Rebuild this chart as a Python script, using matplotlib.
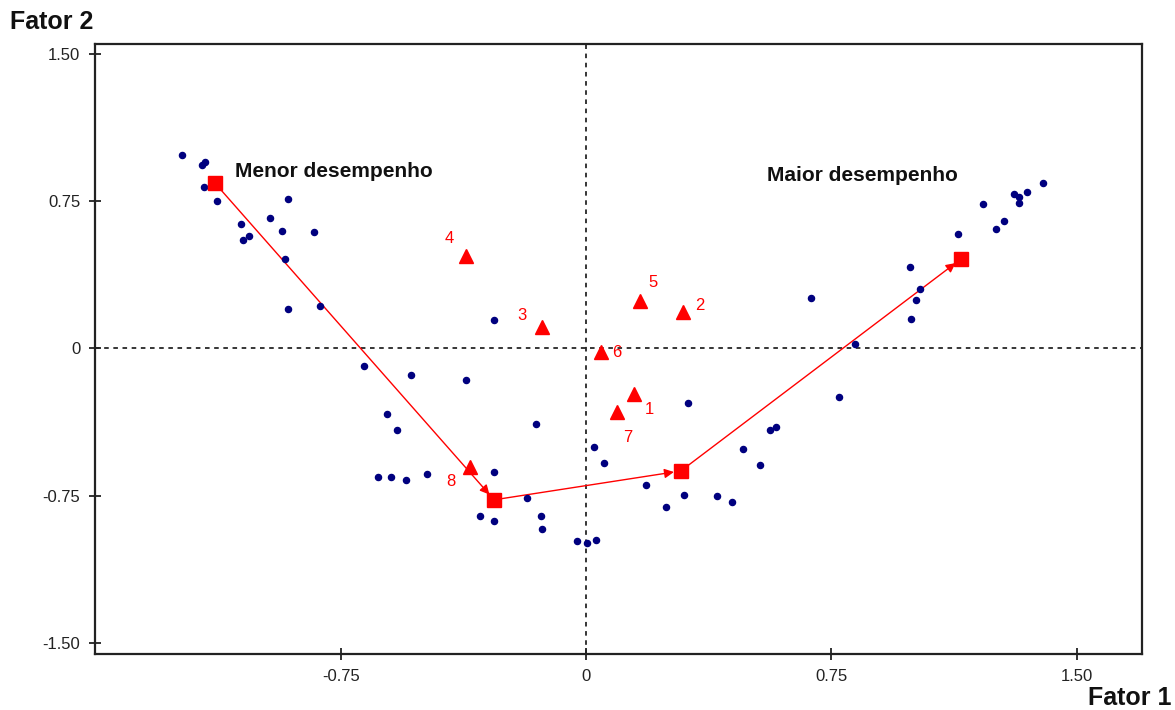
import matplotlib
matplotlib.use("Agg")
import matplotlib.pyplot as plt

plt.rcParams['font.family'] = ['Liberation Sans', 'DejaVu Sans']

# pontos (individuos) - Fator 1 / Fator 2
pontos_x = [-1.236, -1.175, -1.164, -1.169, -1.129, -0.910, -0.967, -1.054, -0.928, -0.832,
            -1.029, -1.049, -0.919, -0.910, -0.813, -0.680, -0.535, -0.368, -0.281, -0.607,
            -0.578, -0.636, -0.597, -0.549, -0.487, -0.281, -0.180, -0.324, -0.281, -0.138,
            -0.134, -0.027, 0.002, 0.031, -0.152, 0.025, 0.054, 0.313, 0.184, 0.300,
            0.245, 0.400, 0.447, 0.481, 0.533, 0.563, 0.582, 0.773, 0.688, 0.822,
            0.994, 1.009, 1.022, 0.990, 1.138, 1.215, 1.253, 1.277, 1.309, 1.323,
            1.325, 1.348, 1.397]
pontos_y = [0.984, 0.934, 0.951, 0.824, 0.751, 0.760, 0.663, 0.632, 0.600, 0.592,
            0.574, 0.552, 0.456, 0.200, 0.216, -0.088, -0.136, -0.160, 0.144, -0.335,
            -0.415, -0.654, -0.654, -0.671, -0.639, -0.630, -0.760, -0.854, -0.878, -0.854,
            -0.919, -0.982, -0.990, -0.975, -0.384, -0.504, -0.583, -0.279, -0.697, -0.744,
            -0.807, -0.751, -0.783, -0.512, -0.592, -0.417, -0.400, -0.247, 0.257, 0.024,
            0.152, 0.247, 0.304, 0.417, 0.583, 0.736, 0.607, 0.648, 0.785, 0.770,
            0.742, 0.798, 0.841]

# trajetoria (quadrados)
traj_x = [-1.134, -0.281, 0.290, 1.147]
traj_y = [0.841, -0.771, -0.624, 0.456]

# variaveis (triangulos)
var_nomes = ['1', '2', '3', '4', '5', '6', '7', '8']
var_x = [0.148, 0.297, -0.135, -0.366, 0.166, 0.045, 0.096, -0.355]
var_y = [-0.232, 0.187, 0.108, 0.473, 0.242, -0.016, -0.325, -0.602]
# deslocamento dos rotulos (pixels)
var_dx = [15, 17, -20, -17, 13, 16, 10, -19]
var_dy = [-16, 6, 12, 17, 18, -1, -25, -15]

fig = plt.figure(figsize=(11.75, 7.1), dpi=100)
ax = fig.add_axes([0.0809, 0.0789, 0.8910, 0.8591])
ax.set_xlim(-1.501, 1.700)
ax.set_ylim(-1.556, 1.550)

ax.axhline(0, color='black', lw=1.1, dashes=(3, 3), zorder=1)
ax.axvline(0, color='black', lw=1.1, dashes=(3, 3), zorder=1)

ax.plot(pontos_x, pontos_y, 'o', color='#00007f', markersize=4.4, zorder=3)

# linhas com setas entre os quadrados
for i in range(len(traj_x) - 1):
    ax.annotate('', xy=(traj_x[i + 1], traj_y[i + 1]), xytext=(traj_x[i], traj_y[i]),
                arrowprops=dict(arrowstyle='-|>', color='#ff0000', lw=1.0,
                                shrinkA=0, shrinkB=5, mutation_scale=14),
                zorder=2)
ax.plot(traj_x, traj_y, 's', color='#ff0000', markersize=9.5, zorder=4)

ax.plot(var_x, var_y, '^', color='#ff0000', markersize=10.5, zorder=4)
for i in range(len(var_nomes)):
    ax.annotate(var_nomes[i], (var_x[i], var_y[i]), xytext=(var_dx[i], var_dy[i]),
                textcoords='offset pixels', ha='center', va='center',
                color='#ff0000', fontsize=12)

ax.text(-1.073, 0.899, 'Menor desempenho', fontsize=15, fontweight='bold',
        va='center', ha='left', color='#111111')
ax.text(0.553, 0.883, 'Maior desempenho', fontsize=15, fontweight='bold',
        va='center', ha='left', color='#111111')

ax.set_xticks([-0.75, 0, 0.75, 1.5])
ax.set_xticklabels(['-0.75', '0', '0.75', '1.50'])
ax.set_yticks([-1.5, -0.75, 0, 0.75, 1.5])
ax.set_yticklabels(['-1.50', '-0.75', '0', '0.75', '1.50'])
ax.tick_params(direction='inout', length=9, width=1.3, color='#222222',
               labelsize=12, labelcolor='#222222', pad=6)

for s in ax.spines.values():
    s.set_linewidth(1.6)
    s.set_color('#222222')

fig.text(10 / 1175, 1 - 22 / 710, 'Fator 2', fontsize=18, fontweight='bold',
         ha='left', va='center', color='#111111')
fig.text(1172 / 1175, 1 - 698 / 710, 'Fator 1', fontsize=18, fontweight='bold',
         ha='right', va='center', color='#111111')

fig.savefig('out.png', dpi=100)
